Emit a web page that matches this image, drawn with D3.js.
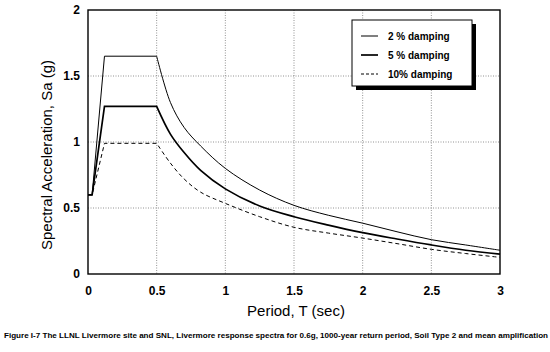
<!DOCTYPE html>
<html>
<head>
<meta charset="utf-8">
<script src="https://cdn.jsdelivr.net/npm/d3@7"></script>
<style>
	body { margin: 0; background: #fff; }
	svg { display: block; }
</style>
</head>
<body>
<div id="chart"></div>
<script>

// period values (sec)
var periods = [0, 0.03, 0.12, 0.5, 0.6, 0.7, 0.82, 1.0, 1.25, 1.5, 1.75, 2.0, 2.25, 2.5, 2.75, 3.0];
// spectral acceleration (g) per damping
var damp2 = [0.6, 0.6, 1.65, 1.65, 1.30, 1.11, 0.97, 0.80, 0.636, 0.52, 0.445, 0.385, 0.32, 0.26, 0.22, 0.18];
var damp5 = [0.6, 0.6, 1.27, 1.27, 1.06, 0.92, 0.785, 0.645, 0.515, 0.434, 0.37, 0.313, 0.265, 0.22, 0.18, 0.15];
var damp10 = [0.6, 0.6, 0.99, 0.99, 0.84, 0.72, 0.62, 0.535, 0.434, 0.354, 0.31, 0.272, 0.23, 0.187, 0.155, 0.126];

var seriesNames = ["2 % damping", "5 % damping", "10% damping"];
var xTicks = [0, 0.5, 1, 1.5, 2, 2.5, 3];
var yTicks = [0, 0.5, 1, 1.5, 2];

function init(){

	var w = 550;
	var h = 352;

	var svg = d3.select("#chart")
				.append("svg")
				.attr("width", w)
				.attr("height", h);

	//plot area
	var left = 88, right = 500, top = 10, bottom = 274;

	var x = d3.scaleLinear().domain([0, 3]).range([left, right]);
	var y = d3.scaleLinear().domain([0, 2]).range([bottom, top]);

	//dotted grid
	svg.selectAll("line.gx")
		.data(xTicks.slice(1, -1))
		.enter()
		.append("line")
		.attr("x1", function(d){ return x(d); })
		.attr("x2", function(d){ return x(d); })
		.attr("y1", top)
		.attr("y2", bottom)
		.attr("stroke", "#777")
		.attr("stroke-width", 0.8)
		.attr("stroke-dasharray", "1,1.5");

	svg.selectAll("line.gy")
		.data(yTicks.slice(1, -1))
		.enter()
		.append("line")
		.attr("x1", left)
		.attr("x2", right)
		.attr("y1", function(d){ return y(d); })
		.attr("y2", function(d){ return y(d); })
		.attr("stroke", "#777")
		.attr("stroke-width", 0.8)
		.attr("stroke-dasharray", "1,1.5");

	//axes with tick labels
	var xAxis = d3.axisBottom(x).tickValues(xTicks).tickSize(0).tickPadding(12)
					.tickFormat(function(d){ return d; });
	var yAxis = d3.axisLeft(y).tickValues(yTicks).tickSize(0).tickPadding(8)
					.tickFormat(function(d){ return d; });

	var gx = svg.append("g")
				.attr("transform", "translate(0," + bottom + ")")
				.call(xAxis);
	var gy = svg.append("g")
				.attr("transform", "translate(" + left + ",0)")
				.call(yAxis);

	[gx, gy].forEach(function(g){
		g.select(".domain").remove();
		g.selectAll("text")
			.attr("fill", "#000")
			.style("font-family", "Liberation Sans, Arial, sans-serif")
			.style("font-weight", "bold")
			.style("font-size", "12px");
	});

	//frame
	svg.append("rect")
		.attr("x", left)
		.attr("y", top)
		.attr("width", right - left)
		.attr("height", bottom - top)
		.attr("fill", "none")
		.attr("stroke", "#000")
		.attr("stroke-width", 1.4);

	//curves: straight rise and plateau, smooth decay after the corner
	var series = [damp2, damp5, damp10];
	var widths = [1, 1.7, 1];
	var dashes = [null, null, "4,3"];
	var corner = 3;

	var rise = d3.line()
				.x(function(d, i){ return x(periods[i]); })
				.y(function(d){ return y(d); });
	var decay = d3.line()
				.x(function(d, i){ return x(periods[i + corner]); })
				.y(function(d){ return y(d); })
				.curve(d3.curveCatmullRom.alpha(0.5));

	svg.selectAll("path.curve")
		.data(series)
		.enter()
		.append("path")
		.attr("class", "curve")
		.attr("d", function(d){
			return rise(d.slice(0, corner + 1)) + decay(d.slice(corner)).replace(/^M/, "L");
		})
		.attr("fill", "none")
		.attr("stroke", "#000")
		.attr("stroke-width", function(d, i){ return widths[i]; })
		.attr("stroke-dasharray", function(d, i){ return dashes[i]; });

	//legend with drop shadow
	var lg = svg.append("g").attr("transform", "translate(352,20)");
	lg.append("rect")
		.attr("x", 4).attr("y", 4)
		.attr("width", 120).attr("height", 66)
		.attr("fill", "#000");
	lg.append("rect")
		.attr("width", 120).attr("height", 66)
		.attr("fill", "#fff")
		.attr("stroke", "#000")
		.attr("stroke-width", 1);

	var items = lg.selectAll("g.item")
				.data(seriesNames)
				.enter()
				.append("g")
				.attr("transform", function(d, i){ return "translate(0," + (16 + i * 19) + ")"; });

	items.append("line")
		.attr("x1", 9).attr("x2", 26)
		.attr("y1", 0).attr("y2", 0)
		.attr("stroke", "#000")
		.attr("stroke-width", function(d, i){ return widths[i]; })
		.attr("stroke-dasharray", function(d, i){ return dashes[i] ? "3,2" : null; });

	items.append("text")
		.attr("x", 36)
		.attr("y", 4)
		.text(function(d){ return d; })
		.style("font-family", "Liberation Sans, Arial, sans-serif")
		.style("font-weight", "bold")
		.style("font-size", "10px");

	//axis titles
	svg.append("text")
		.attr("x", 296)
		.attr("y", 316)
		.attr("text-anchor", "middle")
		.text("Period, T (sec)")
		.style("font-family", "Liberation Sans, Arial, sans-serif")
		.style("font-size", "15px");

	svg.append("text")
		.attr("transform", "translate(52,155) rotate(-90)")
		.attr("text-anchor", "middle")
		.text("Spectral Acceleration, Sa (g)")
		.style("font-family", "Liberation Sans, Arial, sans-serif")
		.style("font-size", "15px");

	//figure caption
	svg.append("text")
		.attr("x", 4)
		.attr("y", 338)
		.attr("textLength", 544)
		.attr("lengthAdjust", "spacingAndGlyphs")
		.text("Figure I-7  The LLNL Livermore site and SNL, Livermore response spectra for 0.6g, 1000-year return period, Soil Type 2 and mean amplification")
		.style("font-family", "Liberation Sans Narrow, Liberation Sans, Arial, sans-serif")
		.style("font-weight", "bold")
		.style("font-size", "8px");
}

window.onload = init;
</script>
</body>
</html>
